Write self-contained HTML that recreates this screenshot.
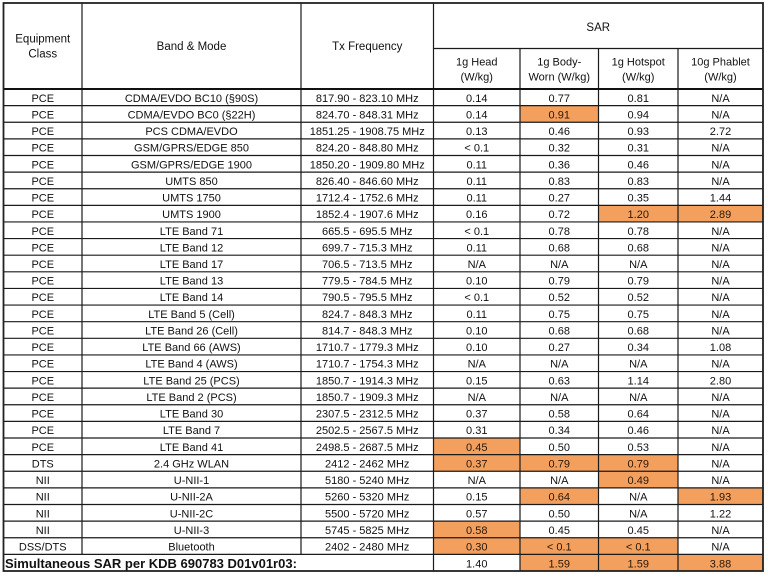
<!DOCTYPE html>
<html><head><meta charset="utf-8">
<style>
html,body{margin:0;padding:0;background:#fff;}
svg{display:block;}
text{font-family:"Liberation Sans",Arial,sans-serif;font-size:11px;fill:#111;}
.c{text-anchor:middle;}
.h{font-size:11.5px;}
.o{fill:#2a1808;}
.b{font-weight:bold;font-size:13px;}
</style></head><body>
<svg width="768" height="577" viewBox="0 0 768 577" xmlns="http://www.w3.org/2000/svg">
<rect x="0" y="0" width="768" height="577" fill="#fff"/>
<g fill="#F3A05F">
<rect x="520" y="105.62" width="78.5" height="16.62"/>
<rect x="598.5" y="205.34" width="79.5" height="16.62"/>
<rect x="678" y="205.34" width="85" height="16.62"/>
<rect x="433.5" y="438.02" width="86.5" height="16.62"/>
<rect x="433.5" y="454.64" width="86.5" height="16.62"/>
<rect x="520" y="454.64" width="78.5" height="16.62"/>
<rect x="598.5" y="454.64" width="79.5" height="16.62"/>
<rect x="598.5" y="471.26" width="79.5" height="16.62"/>
<rect x="520" y="487.88" width="78.5" height="16.62"/>
<rect x="678" y="487.88" width="85" height="16.62"/>
<rect x="433.5" y="521.12" width="86.5" height="16.62"/>
<rect x="433.5" y="537.74" width="86.5" height="16.62"/>
<rect x="520" y="537.74" width="78.5" height="16.62"/>
<rect x="598.5" y="537.74" width="79.5" height="16.62"/>
<rect x="520" y="554.36" width="78.5" height="16.62"/>
<rect x="598.5" y="554.36" width="79.5" height="16.62"/>
<rect x="678" y="554.36" width="85" height="16.62"/>
</g>
<g stroke="#1a1a1a" stroke-width="1.2" fill="none">
<line x1="3.5" x2="763" y1="105.62" y2="105.62"/>
<line x1="3.5" x2="763" y1="122.24" y2="122.24"/>
<line x1="3.5" x2="763" y1="138.86" y2="138.86"/>
<line x1="3.5" x2="763" y1="155.48" y2="155.48"/>
<line x1="3.5" x2="763" y1="172.1" y2="172.1"/>
<line x1="3.5" x2="763" y1="188.72" y2="188.72"/>
<line x1="3.5" x2="763" y1="205.34" y2="205.34"/>
<line x1="3.5" x2="763" y1="221.96" y2="221.96"/>
<line x1="3.5" x2="763" y1="238.58" y2="238.58"/>
<line x1="3.5" x2="763" y1="255.2" y2="255.2"/>
<line x1="3.5" x2="763" y1="271.82" y2="271.82"/>
<line x1="3.5" x2="763" y1="288.44" y2="288.44"/>
<line x1="3.5" x2="763" y1="305.06" y2="305.06"/>
<line x1="3.5" x2="763" y1="321.68" y2="321.68"/>
<line x1="3.5" x2="763" y1="338.3" y2="338.3"/>
<line x1="3.5" x2="763" y1="354.92" y2="354.92"/>
<line x1="3.5" x2="763" y1="371.54" y2="371.54"/>
<line x1="3.5" x2="763" y1="388.16" y2="388.16"/>
<line x1="3.5" x2="763" y1="404.78" y2="404.78"/>
<line x1="3.5" x2="763" y1="421.4" y2="421.4"/>
<line x1="3.5" x2="763" y1="438.02" y2="438.02"/>
<line x1="3.5" x2="763" y1="454.64" y2="454.64"/>
<line x1="3.5" x2="763" y1="471.26" y2="471.26"/>
<line x1="3.5" x2="763" y1="487.88" y2="487.88"/>
<line x1="3.5" x2="763" y1="504.5" y2="504.5"/>
<line x1="3.5" x2="763" y1="521.12" y2="521.12"/>
<line x1="3.5" x2="763" y1="537.74" y2="537.74"/>
<line x1="3.5" x2="763" y1="554.36" y2="554.36"/>
<line x1="433.5" x2="763" y1="48.5" y2="48.5"/>
<line x1="82" x2="82" y1="3" y2="554.36"/>
<line x1="301" x2="301" y1="3" y2="554.36"/>
<line x1="433.5" x2="433.5" y1="3" y2="571"/>
<line x1="520" x2="520" y1="48.5" y2="571"/>
<line x1="598.5" x2="598.5" y1="48.5" y2="571"/>
<line x1="678" x2="678" y1="48.5" y2="571"/>
</g>
<line x1="3.5" x2="763" y1="89" y2="89" stroke="#111" stroke-width="2"/>
<rect x="3.5" y="3" width="759.5" height="568" fill="none" stroke="#222" stroke-width="1.8"/>

<!-- header -->
<text class="c h" x="42.75" y="42.5">Equipment</text>
<text class="c h" x="42.75" y="57.3">Class</text>
<text class="c h" x="191.5" y="50">Band &amp; Mode</text>
<text class="c h" x="367.25" y="50">Tx Frequency</text>
<text class="c h" x="598.25" y="31">SAR</text>
<text class="c" x="476.75" y="65.7">1g Head</text>
<text class="c" x="476.75" y="80.5">(W/kg)</text>
<text class="c" x="559.25" y="65.7">1g Body-</text>
<text class="c" x="559.25" y="80.5">Worn (W/kg)</text>
<text class="c" x="638.25" y="65.7">1g Hotspot</text>
<text class="c" x="638.25" y="80.5">(W/kg)</text>
<text class="c" x="720.5" y="65.7">10g Phablet</text>
<text class="c" x="720.5" y="80.5">(W/kg)</text>

<g transform="translate(0,89)"><text class="c" x="42.75" y="12.8">PCE</text><text class="c" x="191.5" y="12.8">CDMA/EVDO BC10 (§90S)</text><text class="c" x="367.25" y="12.8">817.90 - 823.10 MHz</text><text class="c" x="476.75" y="12.8">0.14</text><text class="c" x="559.25" y="12.8">0.77</text><text class="c" x="638.25" y="12.8">0.81</text><text class="c" x="720.5" y="12.8">N/A</text></g>
<g transform="translate(0,105.62)"><text class="c" x="42.75" y="12.8">PCE</text><text class="c" x="191.5" y="12.8">CDMA/EVDO BC0 (§22H)</text><text class="c" x="367.25" y="12.8">824.70 - 848.31 MHz</text><text class="c" x="476.75" y="12.8">0.14</text><text class="c o" x="559.25" y="12.8">0.91</text><text class="c" x="638.25" y="12.8">0.94</text><text class="c" x="720.5" y="12.8">N/A</text></g>
<g transform="translate(0,122.24)"><text class="c" x="42.75" y="12.8">PCE</text><text class="c" x="191.5" y="12.8">PCS CDMA/EVDO</text><text class="c" x="367.25" y="12.8">1851.25 - 1908.75 MHz</text><text class="c" x="476.75" y="12.8">0.13</text><text class="c" x="559.25" y="12.8">0.46</text><text class="c" x="638.25" y="12.8">0.93</text><text class="c" x="720.5" y="12.8">2.72</text></g>
<g transform="translate(0,138.86)"><text class="c" x="42.75" y="12.8">PCE</text><text class="c" x="191.5" y="12.8">GSM/GPRS/EDGE 850</text><text class="c" x="367.25" y="12.8">824.20 - 848.80 MHz</text><text class="c" x="476.75" y="12.8">&lt; 0.1</text><text class="c" x="559.25" y="12.8">0.32</text><text class="c" x="638.25" y="12.8">0.31</text><text class="c" x="720.5" y="12.8">N/A</text></g>
<g transform="translate(0,155.48)"><text class="c" x="42.75" y="12.8">PCE</text><text class="c" x="191.5" y="12.8">GSM/GPRS/EDGE 1900</text><text class="c" x="367.25" y="12.8">1850.20 - 1909.80 MHz</text><text class="c" x="476.75" y="12.8">0.11</text><text class="c" x="559.25" y="12.8">0.36</text><text class="c" x="638.25" y="12.8">0.46</text><text class="c" x="720.5" y="12.8">N/A</text></g>
<g transform="translate(0,172.1)"><text class="c" x="42.75" y="12.8">PCE</text><text class="c" x="191.5" y="12.8">UMTS 850</text><text class="c" x="367.25" y="12.8">826.40 - 846.60 MHz</text><text class="c" x="476.75" y="12.8">0.11</text><text class="c" x="559.25" y="12.8">0.83</text><text class="c" x="638.25" y="12.8">0.83</text><text class="c" x="720.5" y="12.8">N/A</text></g>
<g transform="translate(0,188.72)"><text class="c" x="42.75" y="12.8">PCE</text><text class="c" x="191.5" y="12.8">UMTS 1750</text><text class="c" x="367.25" y="12.8">1712.4 - 1752.6 MHz</text><text class="c" x="476.75" y="12.8">0.11</text><text class="c" x="559.25" y="12.8">0.27</text><text class="c" x="638.25" y="12.8">0.35</text><text class="c" x="720.5" y="12.8">1.44</text></g>
<g transform="translate(0,205.34)"><text class="c" x="42.75" y="12.8">PCE</text><text class="c" x="191.5" y="12.8">UMTS 1900</text><text class="c" x="367.25" y="12.8">1852.4 - 1907.6 MHz</text><text class="c" x="476.75" y="12.8">0.16</text><text class="c" x="559.25" y="12.8">0.72</text><text class="c o" x="638.25" y="12.8">1.20</text><text class="c o" x="720.5" y="12.8">2.89</text></g>
<g transform="translate(0,221.96)"><text class="c" x="42.75" y="12.8">PCE</text><text class="c" x="191.5" y="12.8">LTE Band 71</text><text class="c" x="367.25" y="12.8">665.5 - 695.5 MHz</text><text class="c" x="476.75" y="12.8">&lt; 0.1</text><text class="c" x="559.25" y="12.8">0.78</text><text class="c" x="638.25" y="12.8">0.78</text><text class="c" x="720.5" y="12.8">N/A</text></g>
<g transform="translate(0,238.58)"><text class="c" x="42.75" y="12.8">PCE</text><text class="c" x="191.5" y="12.8">LTE Band 12</text><text class="c" x="367.25" y="12.8">699.7 - 715.3 MHz</text><text class="c" x="476.75" y="12.8">0.11</text><text class="c" x="559.25" y="12.8">0.68</text><text class="c" x="638.25" y="12.8">0.68</text><text class="c" x="720.5" y="12.8">N/A</text></g>
<g transform="translate(0,255.2)"><text class="c" x="42.75" y="12.8">PCE</text><text class="c" x="191.5" y="12.8">LTE Band 17</text><text class="c" x="367.25" y="12.8">706.5 - 713.5 MHz</text><text class="c" x="476.75" y="12.8">N/A</text><text class="c" x="559.25" y="12.8">N/A</text><text class="c" x="638.25" y="12.8">N/A</text><text class="c" x="720.5" y="12.8">N/A</text></g>
<g transform="translate(0,271.82)"><text class="c" x="42.75" y="12.8">PCE</text><text class="c" x="191.5" y="12.8">LTE Band 13</text><text class="c" x="367.25" y="12.8">779.5 - 784.5 MHz</text><text class="c" x="476.75" y="12.8">0.10</text><text class="c" x="559.25" y="12.8">0.79</text><text class="c" x="638.25" y="12.8">0.79</text><text class="c" x="720.5" y="12.8">N/A</text></g>
<g transform="translate(0,288.44)"><text class="c" x="42.75" y="12.8">PCE</text><text class="c" x="191.5" y="12.8">LTE Band 14</text><text class="c" x="367.25" y="12.8">790.5 - 795.5 MHz</text><text class="c" x="476.75" y="12.8">&lt; 0.1</text><text class="c" x="559.25" y="12.8">0.52</text><text class="c" x="638.25" y="12.8">0.52</text><text class="c" x="720.5" y="12.8">N/A</text></g>
<g transform="translate(0,305.06)"><text class="c" x="42.75" y="12.8">PCE</text><text class="c" x="191.5" y="12.8">LTE Band 5 (Cell)</text><text class="c" x="367.25" y="12.8">824.7 - 848.3 MHz</text><text class="c" x="476.75" y="12.8">0.11</text><text class="c" x="559.25" y="12.8">0.75</text><text class="c" x="638.25" y="12.8">0.75</text><text class="c" x="720.5" y="12.8">N/A</text></g>
<g transform="translate(0,321.68)"><text class="c" x="42.75" y="12.8">PCE</text><text class="c" x="191.5" y="12.8">LTE Band 26 (Cell)</text><text class="c" x="367.25" y="12.8">814.7 - 848.3 MHz</text><text class="c" x="476.75" y="12.8">0.10</text><text class="c" x="559.25" y="12.8">0.68</text><text class="c" x="638.25" y="12.8">0.68</text><text class="c" x="720.5" y="12.8">N/A</text></g>
<g transform="translate(0,338.3)"><text class="c" x="42.75" y="12.8">PCE</text><text class="c" x="191.5" y="12.8">LTE Band 66 (AWS)</text><text class="c" x="367.25" y="12.8">1710.7 - 1779.3 MHz</text><text class="c" x="476.75" y="12.8">0.10</text><text class="c" x="559.25" y="12.8">0.27</text><text class="c" x="638.25" y="12.8">0.34</text><text class="c" x="720.5" y="12.8">1.08</text></g>
<g transform="translate(0,354.92)"><text class="c" x="42.75" y="12.8">PCE</text><text class="c" x="191.5" y="12.8">LTE Band 4 (AWS)</text><text class="c" x="367.25" y="12.8">1710.7 - 1754.3 MHz</text><text class="c" x="476.75" y="12.8">N/A</text><text class="c" x="559.25" y="12.8">N/A</text><text class="c" x="638.25" y="12.8">N/A</text><text class="c" x="720.5" y="12.8">N/A</text></g>
<g transform="translate(0,371.54)"><text class="c" x="42.75" y="12.8">PCE</text><text class="c" x="191.5" y="12.8">LTE Band 25 (PCS)</text><text class="c" x="367.25" y="12.8">1850.7 - 1914.3 MHz</text><text class="c" x="476.75" y="12.8">0.15</text><text class="c" x="559.25" y="12.8">0.63</text><text class="c" x="638.25" y="12.8">1.14</text><text class="c" x="720.5" y="12.8">2.80</text></g>
<g transform="translate(0,388.16)"><text class="c" x="42.75" y="12.8">PCE</text><text class="c" x="191.5" y="12.8">LTE Band 2 (PCS)</text><text class="c" x="367.25" y="12.8">1850.7 - 1909.3 MHz</text><text class="c" x="476.75" y="12.8">N/A</text><text class="c" x="559.25" y="12.8">N/A</text><text class="c" x="638.25" y="12.8">N/A</text><text class="c" x="720.5" y="12.8">N/A</text></g>
<g transform="translate(0,404.78)"><text class="c" x="42.75" y="12.8">PCE</text><text class="c" x="191.5" y="12.8">LTE Band 30</text><text class="c" x="367.25" y="12.8">2307.5 - 2312.5 MHz</text><text class="c" x="476.75" y="12.8">0.37</text><text class="c" x="559.25" y="12.8">0.58</text><text class="c" x="638.25" y="12.8">0.64</text><text class="c" x="720.5" y="12.8">N/A</text></g>
<g transform="translate(0,421.4)"><text class="c" x="42.75" y="12.8">PCE</text><text class="c" x="191.5" y="12.8">LTE Band 7</text><text class="c" x="367.25" y="12.8">2502.5 - 2567.5 MHz</text><text class="c" x="476.75" y="12.8">0.31</text><text class="c" x="559.25" y="12.8">0.34</text><text class="c" x="638.25" y="12.8">0.46</text><text class="c" x="720.5" y="12.8">N/A</text></g>
<g transform="translate(0,438.02)"><text class="c" x="42.75" y="12.8">PCE</text><text class="c" x="191.5" y="12.8">LTE Band 41</text><text class="c" x="367.25" y="12.8">2498.5 - 2687.5 MHz</text><text class="c o" x="476.75" y="12.8">0.45</text><text class="c" x="559.25" y="12.8">0.50</text><text class="c" x="638.25" y="12.8">0.53</text><text class="c" x="720.5" y="12.8">N/A</text></g>
<g transform="translate(0,454.64)"><text class="c" x="42.75" y="12.8">DTS</text><text class="c" x="191.5" y="12.8">2.4 GHz WLAN</text><text class="c" x="367.25" y="12.8">2412 - 2462 MHz</text><text class="c o" x="476.75" y="12.8">0.37</text><text class="c o" x="559.25" y="12.8">0.79</text><text class="c o" x="638.25" y="12.8">0.79</text><text class="c" x="720.5" y="12.8">N/A</text></g>
<g transform="translate(0,471.26)"><text class="c" x="42.75" y="12.8">NII</text><text class="c" x="191.5" y="12.8">U-NII-1</text><text class="c" x="367.25" y="12.8">5180 - 5240 MHz</text><text class="c" x="476.75" y="12.8">N/A</text><text class="c" x="559.25" y="12.8">N/A</text><text class="c o" x="638.25" y="12.8">0.49</text><text class="c" x="720.5" y="12.8">N/A</text></g>
<g transform="translate(0,487.88)"><text class="c" x="42.75" y="12.8">NII</text><text class="c" x="191.5" y="12.8">U-NII-2A</text><text class="c" x="367.25" y="12.8">5260 - 5320 MHz</text><text class="c" x="476.75" y="12.8">0.15</text><text class="c o" x="559.25" y="12.8">0.64</text><text class="c" x="638.25" y="12.8">N/A</text><text class="c o" x="720.5" y="12.8">1.93</text></g>
<g transform="translate(0,504.5)"><text class="c" x="42.75" y="12.8">NII</text><text class="c" x="191.5" y="12.8">U-NII-2C</text><text class="c" x="367.25" y="12.8">5500 - 5720 MHz</text><text class="c" x="476.75" y="12.8">0.57</text><text class="c" x="559.25" y="12.8">0.50</text><text class="c" x="638.25" y="12.8">N/A</text><text class="c" x="720.5" y="12.8">1.22</text></g>
<g transform="translate(0,521.12)"><text class="c" x="42.75" y="12.8">NII</text><text class="c" x="191.5" y="12.8">U-NII-3</text><text class="c" x="367.25" y="12.8">5745 - 5825 MHz</text><text class="c o" x="476.75" y="12.8">0.58</text><text class="c" x="559.25" y="12.8">0.45</text><text class="c" x="638.25" y="12.8">0.45</text><text class="c" x="720.5" y="12.8">N/A</text></g>
<g transform="translate(0,537.74)"><text class="c" x="42.75" y="12.8">DSS/DTS</text><text class="c" x="191.5" y="12.8">Bluetooth</text><text class="c" x="367.25" y="12.8">2402 - 2480 MHz</text><text class="c o" x="476.75" y="12.8">0.30</text><text class="c o" x="559.25" y="12.8">&lt; 0.1</text><text class="c o" x="638.25" y="12.8">&lt; 0.1</text><text class="c" x="720.5" y="12.8">N/A</text></g>
<g transform="translate(0,554.36)"><text class="b" x="5" y="13.8">Simultaneous SAR per KDB 690783 D01v01r03:</text><text class="c" x="476.75" y="13.2">1.40</text><text class="c o" x="559.25" y="13.2">1.59</text><text class="c o" x="638.25" y="13.2">1.59</text><text class="c o" x="720.5" y="13.2">3.88</text></g>
</svg>
</body></html>
